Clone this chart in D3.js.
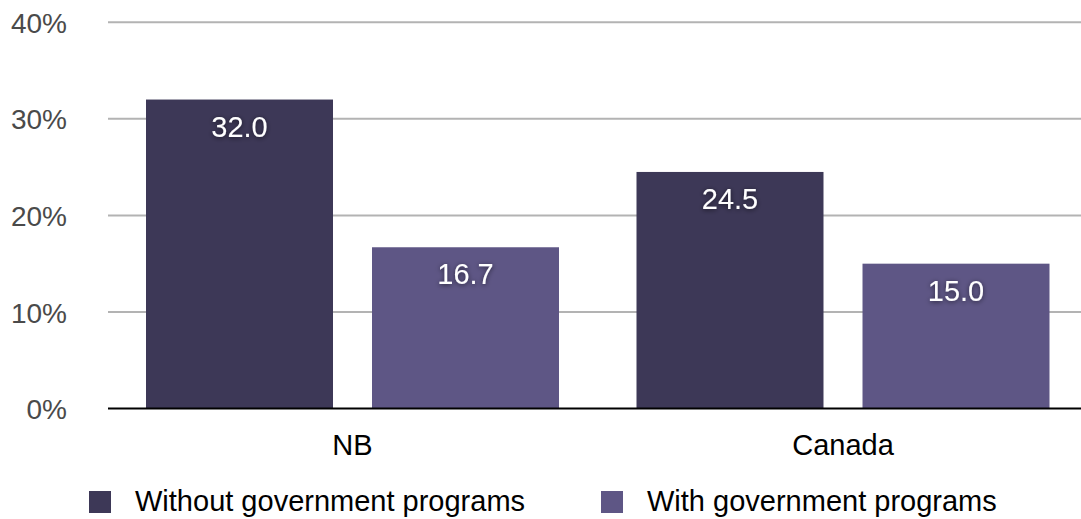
<!DOCTYPE html>
<html><head><meta charset="utf-8">
<script src="https://cdn.jsdelivr.net/npm/d3@7"></script>
<style>body{margin:0;background:#fff}svg{display:block}text{font-family:"Liberation Sans",Arial,Helvetica,sans-serif}</style>
</head><body><svg id="c" width="1081" height="519"></svg>
<script>
const categories = ["NB", "Canada"];
const seriesNames = ["Without government programs", "With government programs"];
const withoutPrograms = [32.0, 24.5];
const withPrograms = [16.7, 15.0];
const yTicks = [0, 10, 20, 30, 40];
const colors = ["#3d3857", "#5e5685"];

const svg = d3.select("#c");
const defs = svg.append("defs");
const f = defs.append("filter").attr("id","sh").attr("x","-20%").attr("y","-30%").attr("width","140%").attr("height","160%");
f.append("feDropShadow").attr("dx",0).attr("dy",1).attr("stdDeviation",2.5).attr("flood-color","#000").attr("flood-opacity",0.6);

const y = d3.scaleLinear().domain([0,40]).range([408.5,22.3]);
const x0 = d3.scaleBand().domain(categories).range([107.25,1088.25]).paddingInner(0.158).paddingOuter(0.079);
const x1 = d3.scaleBand().domain([0,1]).range([0,x0.bandwidth()]).paddingInner(0.1726);

const gridL = 108, gridR = 1081;
svg.append("g").selectAll("line").data(yTicks.filter(t=>t>0)).join("line")
  .attr("x1",gridL).attr("x2",gridR).attr("y1",d=>y(d)).attr("y2",d=>y(d))
  .attr("stroke","#b3b3b3").attr("stroke-width",2);

const yAxis = d3.axisLeft(y).tickValues(yTicks).tickFormat(d=>d+"%").tickSize(0).tickPadding(0);
const ya = svg.append("g").attr("transform","translate(67,0)").call(yAxis);
ya.select(".domain").remove();
ya.selectAll("text").attr("font-size",28).attr("fill","#4a4a4a").attr("font-family","'Liberation Sans',Arial,sans-serif").attr("dy","0.36em");

const data = categories.map((c,i)=>({cat:c, vals:[withoutPrograms[i], withPrograms[i]]}));
const g = svg.append("g").selectAll("g").data(data).join("g").attr("transform",d=>`translate(${x0(d.cat)},0)`);
g.selectAll("rect").data(d=>d.vals.map((v,j)=>({v,j}))).join("rect")
  .attr("x",d=>x1(d.j)).attr("width",x1.bandwidth())
  .attr("y",d=>y(d.v)).attr("height",d=>y(0)-y(d.v)).attr("fill",d=>colors[d.j]);
g.selectAll("text").data(d=>d.vals.map((v,j)=>({v,j}))).join("text")
  .attr("x",d=>x1(d.j)+x1.bandwidth()/2).attr("y",d=>y(d.v)+37)
  .attr("text-anchor","middle").attr("font-size",29).attr("fill","#fff").attr("filter","url(#sh)")
  .text(d=>d.v.toFixed(1));

svg.append("line").attr("x1",gridL).attr("x2",gridR).attr("y1",y(0)).attr("y2",y(0)).attr("stroke","#000").attr("stroke-width",2);

const xAxis = d3.axisBottom(x0).tickSize(0).tickPadding(0);
const xa = svg.append("g").attr("transform","translate(0,455)").call(xAxis);
xa.select(".domain").remove();
xa.selectAll("text").attr("font-size",29).attr("fill","#000").attr("font-family","'Liberation Sans',Arial,sans-serif").attr("dy",0);

const legX = [89, 601];
const lg = svg.append("g").selectAll("g").data(seriesNames).join("g").attr("transform",(d,i)=>`translate(${legX[i]},491)`);
lg.append("rect").attr("width",22).attr("height",22).attr("fill",(d,i)=>colors[i]);
lg.append("text").attr("x",46).attr("y",19.5).attr("font-size",29).attr("fill","#000").text(d=>d);
</script></body></html>
